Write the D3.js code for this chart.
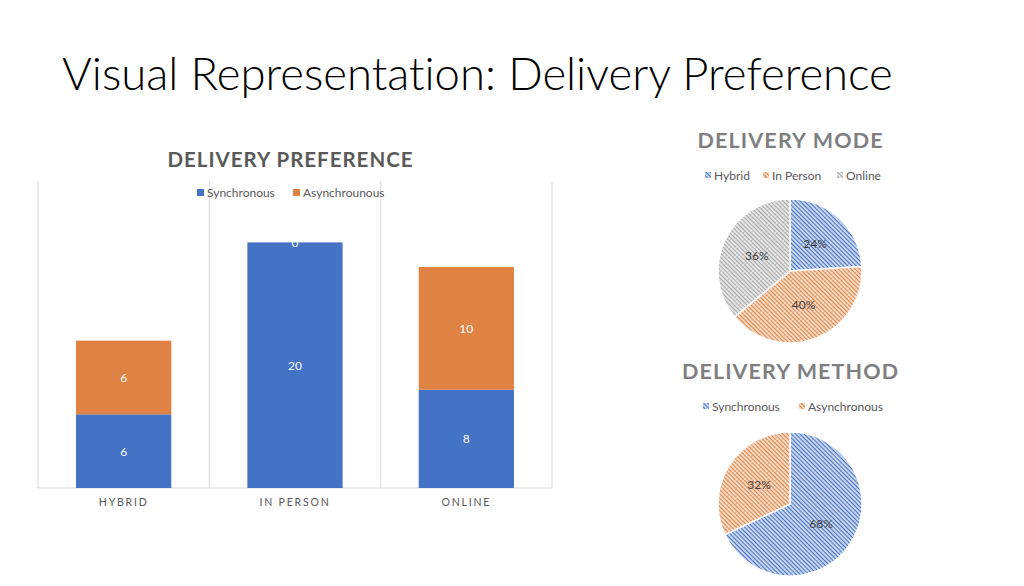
<!DOCTYPE html>
<html><head><meta charset="utf-8">
<script src="https://cdn.jsdelivr.net/npm/d3@7"></script>
<style>
html,body{margin:0;padding:0;background:#fff;}
svg{display:block;font-family:Lato,"Open Sans",sans-serif;font-variant-ligatures:none;}
</style></head>
<body>
<svg id="c" width="1024" height="586"></svg>
<script>
// ---- data ----
const pageTitle = "Visual Representation: Delivery Preference";
const barTitle = "DELIVERY PREFERENCE";
const categories = ["HYBRID", "IN PERSON", "ONLINE"];
const seriesNames = ["Synchronous", "Asynchrounous"];
const synchronous = [6, 20, 8];
const asynchronous = [6, 0, 10];
const yMax = 25;

const modeTitle = "DELIVERY MODE";
const modeLabels = ["Hybrid", "In Person", "Online"];
const modeValues = [24, 40, 36];

const methodTitle = "DELIVERY METHOD";
const methodLabels = ["Synchronous", "Asynchronous"];
const methodValues = [68, 32];

// ---- styles ----
const blue = "#4472C4", orange = "#E08244", gray = "#A5A5A5";
const svg = d3.select("#c");

// page title
const t = svg.append("text").attr("x", 62).attr("y", 90)
  .attr("font-family", "Lato, 'Open Sans', sans-serif").attr("font-weight", 300)
  .attr("font-size", 44).attr("fill", "#000").text(pageTitle);
const tw = t.node().getComputedTextLength();
t.attr("font-size", 44 * 831 / tw);

// ---- bar chart ----
const x = d3.scaleBand().domain(categories).range([38, 552]).padding(0);
const y = d3.scaleLinear().domain([0, yMax]).range([488, 181]);
const barW = x.bandwidth() * 0.556;
const g = svg.append("g");

// gridlines (vertical, category separators)
const bounds = categories.map(c => x(c)).concat([x.range()[1]]);
g.selectAll("line.grid").data(bounds).join("line")
  .attr("x1", d => d).attr("x2", d => d)
  .attr("y1", y(yMax)).attr("y2", y(0))
  .attr("stroke", "#d9d9d9").attr("stroke-width", 1);
g.append("line").attr("x1", x.range()[0]).attr("x2", x.range()[1])
  .attr("y1", y(0)).attr("y2", y(0)).attr("stroke", "#d9d9d9");

const stackData = categories.map((c, i) => ({cat: c, Synchronous: synchronous[i], Asynchrounous: asynchronous[i]}));
const stack = d3.stack().keys(seriesNames)(stackData);
const colors = [blue, orange];
stack.forEach((s, si) => {
  g.selectAll(null).data(s).join("rect")
    .attr("x", d => x(d.data.cat) + (x.bandwidth() - barW) / 2)
    .attr("width", barW)
    .attr("y", d => y(d[1]))
    .attr("height", d => y(d[0]) - y(d[1]))
    .attr("fill", colors[si]);
});
stack.forEach((s, si) => {
  g.selectAll(null).data(s).join("text")
    .attr("x", d => x(d.data.cat) + x.bandwidth() / 2)
    .attr("y", d => (y(d[0]) + y(d[1])) / 2 + 4.5)
    .attr("text-anchor", "middle").attr("font-size", 12).attr("fill", "#fff")
    .text(d => d[1] - d[0]);
});

// category axis labels
const xAxis = d3.axisBottom(x).tickSize(0).tickPadding(0);
const ax = svg.append("g").attr("transform", "translate(0,499)").call(xAxis);
ax.select(".domain").remove();
ax.selectAll("text").attr("font-family", "Lato, sans-serif").attr("font-size", 10.5)
  .attr("fill", "#595959").attr("dy", "0.71em").attr("letter-spacing", 1.8)
  .attr("text-anchor", "middle");

// bar title
svg.append("text").attr("x", 290).attr("y", 167).attr("text-anchor", "middle")
  .attr("font-weight", 700).attr("font-size", 20.5).attr("fill", "#595959")
  .attr("textLength", 245).attr("lengthAdjust", "spacing").text(barTitle);

// bar legend
const legX = [197, 293];
seriesNames.forEach((n, i) => {
  svg.append("rect").attr("x", legX[i]).attr("y", 189).attr("width", 7).attr("height", 7).attr("fill", colors[i]);
  svg.append("text").attr("x", legX[i] + 10).attr("y", 197).attr("font-size", 12)
    .attr("fill", "#595959").text(n);
});

// ---- pie patterns ----
const defs = svg.append("defs");
function pattern(id, color, tint) {
  const p = defs.append("pattern").attr("id", id).attr("patternUnits", "userSpaceOnUse")
    .attr("width", 3).attr("height", 3).attr("patternTransform", "rotate(45)");
  p.append("rect").attr("width", 3).attr("height", 3).attr("fill", tint);
  p.append("rect").attr("width", 3).attr("height", 1.1).attr("fill", color);
  return "url(#" + id + ")";
}
const pBlue = pattern("pb", blue, "#cfdbf1"),
      pOrange = pattern("po", orange, "#f9dfcc"),
      pGray = pattern("pg", gray, "#e8e8e8");

function drawPie(cx, cy, r, labels, values, fills, title, titleY, titleW, legendXs, legendY) {
  const pie = d3.pie().sort(null).value(d => d)(values);
  const arc = d3.arc().innerRadius(0).outerRadius(r);
  const lab = d3.arc().innerRadius(r * 0.51).outerRadius(r * 0.51);
  const pg = svg.append("g").attr("transform", `translate(${cx},${cy})`);
  pg.selectAll("path").data(pie).join("path").attr("d", arc)
    .attr("fill", (d, i) => fills[i]).attr("stroke", "#fff").attr("stroke-width", 1.5);
  pg.selectAll("text").data(pie).join("text")
    .attr("transform", d => `translate(${lab.centroid(d)})`)
    .attr("text-anchor", "middle").attr("dy", "0.35em")
    .attr("font-size", 12).attr("fill", "#404040")
    .text(d => d.data + "%");
  svg.append("text").attr("x", cx).attr("y", titleY).attr("text-anchor", "middle")
    .attr("font-weight", 700).attr("font-size", 21.5).attr("fill", "#7f7f7f")
    .attr("textLength", titleW).attr("lengthAdjust", "spacing").text(title);
  labels.forEach((n, i) => {
    svg.append("rect").attr("x", legendXs[i]).attr("y", legendY - 8).attr("width", 6).attr("height", 6)
      .attr("fill", fills[i]);
    svg.append("text").attr("x", legendXs[i] + 9).attr("y", legendY).attr("font-size", 12)
      .attr("fill", "#595959").text(n);
  });
}
drawPie(790, 271, 72, modeLabels, modeValues, [pBlue, pOrange, pGray], modeTitle, 148, 185, [705, 763, 837], 180);
drawPie(790, 504, 72, methodLabels, methodValues, [pBlue, pOrange], methodTitle, 379, 216, [703, 799], 411);
</script>
</body></html>
